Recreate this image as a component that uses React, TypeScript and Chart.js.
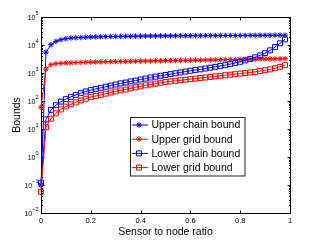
import React, { useEffect, useRef } from "react";
import { Chart, registerables } from "chart.js";

Chart.register(...registerables);

const ratios = [
  0, 0.02, 0.04, 0.06, 0.08, 0.1, 0.12, 0.14, 0.16, 0.18, 0.2, 0.22, 0.24, 0.26, 0.28, 0.3, 0.32, 0.34,
  0.36, 0.38, 0.4, 0.42, 0.44, 0.46, 0.48, 0.5, 0.52, 0.54, 0.56, 0.58, 0.6, 0.62, 0.64, 0.66, 0.68,
  0.7, 0.72, 0.74, 0.76, 0.78, 0.8, 0.82, 0.84, 0.86, 0.88, 0.9, 0.92, 0.94, 0.96, 0.98,
];

const upperChain = [
  0.1, 5600, 10200, 13500, 15500, 16800, 17800, 18200, 18600, 19000, 19300,
  19500, 19700, 19900, 20100, 20200, 20400, 20500, 20600, 20700, 20800, 20900, 21000, 21100, 21150, 21200,
  21250, 21300, 21350, 21400, 21450, 21500, 21550, 21600, 21650, 21700, 21750, 21800, 21850, 21900, 21950,
  22000, 22050, 22100, 22150, 22200, 22250, 22300, 22350, 22400,
];

const upperGrid = [
  60, 1390, 1980, 2150, 2220, 2280, 2320, 2360, 2390, 2420, 2450,
  2470, 2490, 2510, 2530, 2550, 2570, 2590, 2610, 2630, 2650, 2670, 2690, 2710, 2730, 2750,
  2770, 2790, 2810, 2830, 2850, 2870, 2890, 2910, 2930, 2950, 2980, 3000, 3020, 3040, 3060,
  3080, 3100, 3120, 3140, 3160, 3180, 3200, 3220, 3260,
];

const lowerChain = [
  0.12, 22, 48, 71, 95, 117, 141, 166, 191, 219, 245,
  269, 295, 324, 355, 389, 427, 457, 501, 537, 589, 631, 692, 741, 794, 851,
  912, 977, 1047, 1122, 1202, 1288, 1349, 1445, 1549, 1660, 1778, 1905, 2089, 2291, 2512,
  2818, 3162, 3631, 4266, 5129, 6457, 8511, 11482, 15849,
];

const lowerGrid = [
  0.057, 11.5, 23.4, 36.3, 50.1, 63.1, 75.9, 89.1, 105, 120, 138,
  151, 166, 182, 200, 219, 240, 257, 282, 309, 331, 363, 389, 417, 447, 479,
  501, 525, 550, 575, 603, 631, 661, 692, 724, 759, 794, 832, 871, 912, 955,
  1000, 1047, 1096, 1175, 1259, 1349, 1479, 1660, 1905,
];

const seriesNames = ["Upper chain bound", "Upper grid bound", "Lower chain bound", "Lower grid bound"];
const xTickValues = [0, 0.2, 0.4, 0.6, 0.8, 1];
const xTickLabels = ["0", "0.2", "0.4", "0.6", "0.8", "1"];
const yExponents = [-2, -1, 0, 1, 2, 3, 4, 5];
const xTitle = "Sensor to node ratio";
const yTitle = "Bounds";

const FONT = "'Liberation Sans', Arial, Helvetica, sans-serif";
const BLUE = "#0000ff";
const RED = "#ff0000";

const seriesStyles = [
  { color: BLUE, marker: "star", radius: 2.8 },
  { color: RED, marker: "star", radius: 2.8 },
  { color: BLUE, marker: "rect", radius: 3.5 },
  { color: RED, marker: "rect", radius: 3.5 },
];

function drawMarker(ctx: CanvasRenderingContext2D, kind: string, x: number, y: number, color: string) {
  ctx.save();
  ctx.strokeStyle = color;
  ctx.lineWidth = 1;
  ctx.beginPath();
  if (kind === "star") {
    const r = 2.8;
    const d = r * Math.SQRT1_2;
    ctx.moveTo(x - r, y); ctx.lineTo(x + r, y);
    ctx.moveTo(x, y - r); ctx.lineTo(x, y + r);
    ctx.moveTo(x - d, y - d); ctx.lineTo(x + d, y + d);
    ctx.moveTo(x - d, y + d); ctx.lineTo(x + d, y - d);
  } else {
    const s = 2.5;
    ctx.rect(x - s, y - s, 2 * s, 2 * s);
  }
  ctx.stroke();
  ctx.restore();
}

export default function App() {
  const ref = useRef<HTMLCanvasElement>(null);

  useEffect(() => {
    const canvas = ref.current;
    if (!canvas) return;
    const allSeries = [upperChain, upperGrid, lowerChain, lowerGrid];
    const datasets = allSeries.map((ys, i) => ({
      label: seriesNames[i],
      data: ratios.map((x, j) => ({ x, y: ys[j] })),
      borderColor: seriesStyles[i].color,
      backgroundColor: "rgba(0,0,0,0)",
      pointBorderColor: seriesStyles[i].color,
      pointBackgroundColor: "rgba(0,0,0,0)",
      pointStyle: seriesStyles[i].marker,
      pointRadius: seriesStyles[i].radius,
      pointBorderWidth: 1,
      borderWidth: 1,
      tension: 0,
      fill: false,
      clip: false,
      order: 4 - i,
    }));

    const framePlugin = {
      id: "frame",
      beforeDatasetsDraw(chart: any) {
        const { ctx, chartArea: a, scales } = chart;
        const xs = scales.x;
        const ys = scales.y;
        ctx.save();
        ctx.strokeStyle = "#000";
        ctx.lineWidth = 1;
        const L = Math.round(a.left) + 0.5;
        const R = Math.round(a.right) + 0.5;
        const T = Math.round(a.top) + 0.5;
        const B = Math.round(a.bottom) + 0.5;
        ctx.beginPath();
        ctx.rect(L, T, R - L, B - T);
        // x ticks
        for (const v of xTickValues) {
          const px = Math.round(xs.getPixelForValue(v)) + 0.5;
          ctx.moveTo(px, B); ctx.lineTo(px, B - 3);
          ctx.moveTo(px, T); ctx.lineTo(px, T + 3);
        }
        // y ticks
        for (const e of yExponents) {
          const py = Math.round(ys.getPixelForValue(Math.pow(10, e))) + 0.5;
          ctx.moveTo(L, py); ctx.lineTo(L + 3, py);
          ctx.moveTo(R, py); ctx.lineTo(R - 3, py);
          if (e < 5) {
            for (let m = 2; m <= 9; m++) {
              const pm = Math.round(ys.getPixelForValue(m * Math.pow(10, e))) + 0.5;
              ctx.moveTo(L, pm); ctx.lineTo(L + 1.5, pm);
              ctx.moveTo(R, pm); ctx.lineTo(R - 1.5, pm);
            }
          }
        }
        ctx.stroke();
        // y tick labels 10^e
        ctx.fillStyle = "#000";
        ctx.textBaseline = "middle";
        for (const e of yExponents) {
          const py = ys.getPixelForValue(Math.pow(10, e));
          const expText = e < 0 ? "\u2212" + Math.abs(e) : String(e);
          ctx.font = `5.5px ${FONT}`;
          const expW = ctx.measureText(expText).width;
          const rightX = a.left - 2.5;
          ctx.textAlign = "left";
          ctx.fillText(expText, rightX - expW, py - 3.2);
          ctx.font = `7px ${FONT}`;
          ctx.textAlign = "right";
          ctx.fillText("10", rightX - expW, py + 0.8);
        }
        ctx.restore();
      },
      afterDraw(chart: any) {
        const { ctx } = chart;
        ctx.save();
        const bx = 130.5, by = 117.5, bw = 114.5, bh = 58.5;
        ctx.fillStyle = "#fff";
        ctx.fillRect(bx, by, bw, bh);
        ctx.strokeStyle = "#222";
        ctx.lineWidth = 1;
        ctx.strokeRect(bx, by, bw, bh);
        ctx.font = `10.5px ${FONT}`;
        ctx.textBaseline = "middle";
        ctx.textAlign = "left";
        seriesNames.forEach((name, i) => {
          const y = 125 + i * 14.2;
          const st = seriesStyles[i];
          ctx.strokeStyle = st.color;
          ctx.lineWidth = 1;
          ctx.beginPath();
          ctx.moveTo(132, y);
          ctx.lineTo(148, y);
          ctx.stroke();
          drawMarker(ctx, st.marker, 139, y, st.color);
          ctx.fillStyle = "#000";
          ctx.fillText(name, 151.5, y + 0.5);
        });
        ctx.restore();
      },
    };

    const chart = new Chart(canvas, {
      type: "line",
      data: { datasets } as any,
      plugins: [framePlugin],
      options: {
        responsive: false,
        animation: false,
        devicePixelRatio: 1,
        events: [],
        layout: { padding: { left: 0, right: 30, top: 17, bottom: 0 } },
        plugins: {
          legend: { display: false },
          tooltip: { enabled: false },
          title: { display: false },
        },
        scales: {
          x: {
            type: "linear",
            position: "bottom",
            min: 0,
            max: 1,
            afterFit: (s: any) => { s.height = 28; },
            afterBuildTicks: (s: any) => { s.ticks = xTickValues.map((v) => ({ value: v })); },
            grid: { display: false, drawTicks: false },
            border: { display: false },
            ticks: {
              padding: 3,
              color: "#000",
              autoSkip: false,
              maxRotation: 0,
              font: { family: FONT, size: 7.5 },
              callback: (_v: any, i: number) => xTickLabels[i],
            },
            title: {
              display: true,
              text: xTitle,
              color: "#000",
              font: { family: FONT, size: 10.5 },
              padding: { top: 0, bottom: 3 },
            },
          },
          y: {
            type: "logarithmic",
            position: "left",
            min: 0.01,
            max: 100000,
            afterFit: (s: any) => { s.width = 41; },
            afterBuildTicks: (s: any) => { s.ticks = yExponents.map((e) => ({ value: Math.pow(10, e) })); },
            grid: { display: false, drawTicks: false },
            border: { display: false },
            ticks: { display: false },
            title: {
              display: true,
              text: yTitle,
              color: "#000",
              font: { family: FONT, size: 10.5 },
              padding: { top: 11, bottom: 0 },
            },
          },
        },
      } as any,
    });

    return () => chart.destroy();
  }, []);

  return (
    <div style={{ position: "absolute", left: 0, top: 0, width: 320, height: 241, background: "#fff" }}>
      <canvas ref={ref} width={320} height={241} style={{ display: "block", width: 320, height: 241 }} />
    </div>
  );
}
